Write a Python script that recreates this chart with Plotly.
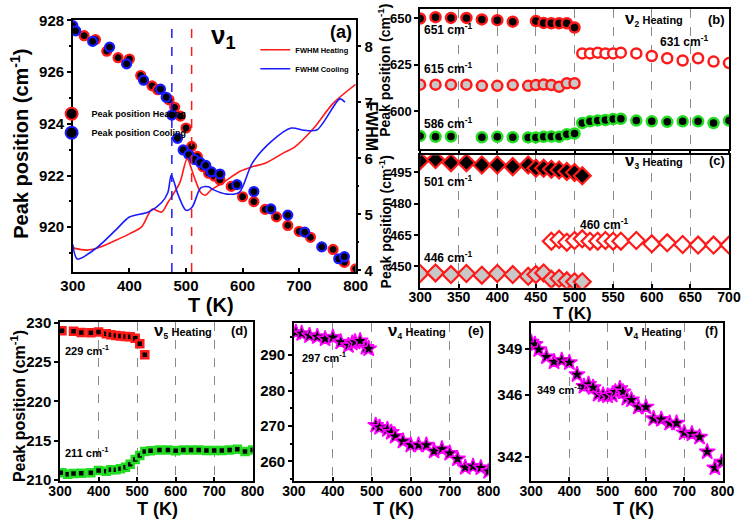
import plotly.graph_objects as go

W, H = 750, 526
FONT = "Liberation Sans"

# ---------------- data ----------------
# (a) nu1
a_heat_T = [320, 340, 360, 380, 400, 420, 440, 450, 470, 480, 490, 500, 510, 520, 530, 540, 550, 560,
            580, 600, 620, 640, 660, 680, 700, 720, 760, 780, 800]
a_heat_P = [927.41, 927.26, 926.81, 926.56, 926.51, 925.87, 925.47, 925.32, 924.93, 924.64, 924.30, 923.84,
            923.13, 922.74, 922.34, 922.09, 921.98, 921.83, 921.58, 921.18, 920.99, 920.69, 920.40, 920.07,
            919.84, 919.61, 919.14, 918.64, 918.39]
a_cool_T = [300, 305, 335, 365, 395, 425, 455, 465, 475, 485, 495, 505, 515, 525, 535, 545, 560, 590,
            620, 650, 680, 710, 740, 770, 780]
a_cool_P = [927.80, 927.60, 927.19, 926.97, 926.32, 925.69, 925.34, 925.03, 924.34, 923.44, 922.99, 922.81,
            922.62, 922.51, 922.39, 922.14, 922.06, 921.65, 921.38, 920.71, 920.47, 919.81, 919.24, 918.78,
            918.86]
fw_heat_T = [300, 325, 350, 375, 400, 422, 440, 457, 468, 489, 502, 514, 526, 534, 545, 565, 594, 617,
             640, 675, 692, 726, 760, 800]
fw_heat_F = [4.40, 4.36, 4.42, 4.53, 4.65, 4.78, 5.09, 5.04, 5.21, 5.56, 5.99, 5.68, 5.39, 5.34, 5.44,
             5.56, 5.76, 5.85, 5.91, 6.11, 6.20, 6.54, 6.98, 7.32]
fw_cool_T = [300, 308, 342, 376, 400, 434, 457, 468, 474, 486, 500, 511, 526, 540, 548, 572, 594, 617,
             652, 686, 709, 732, 772, 781]
fw_cool_F = [4.46, 4.20, 4.40, 4.72, 4.95, 5.04, 5.21, 5.39, 5.70, 5.35, 5.07, 5.13, 5.47, 5.49, 5.44,
             5.36, 5.39, 5.91, 6.31, 6.54, 6.50, 6.51, 7.06, 7.00]
TC_COOL = 475
TC_HEAT = 510

# (b) nu2
b651_T = [300, 320, 340, 360, 380, 400, 420, 450, 460, 470, 480, 490, 500]
b651_P = [650.0, 650.7, 650.3, 650.3, 649.5, 649.1, 648.3, 648.6, 647.6, 647.4, 647.4, 647.4, 645.1]
b615_T = [300, 320, 340, 360, 380, 400, 420, 440, 450, 460, 470, 480, 490, 500]
b615_P = [614.2, 614.2, 614.2, 614.2, 613.6, 613.6, 614.0, 613.6, 614.0, 614.3, 614.0, 613.1, 615.0, 615.0]
b631_T = [510, 520, 530, 540, 550, 560, 580, 600, 620, 640, 660, 680, 700]
b631_P = [631.1, 631.1, 631.5, 631.1, 631.1, 631.5, 631.1, 629.7, 628.5, 627.3, 628.5, 626.7, 625.9]
b586_T = [300, 320, 340, 380, 400, 420, 440, 450, 460, 470, 480, 490, 500, 510, 520, 530, 540, 550, 560,
          580, 600, 620, 640, 660, 680, 700]
b586_P = [586.5, 586.0, 586.2, 585.8, 586.0, 585.8, 585.7, 585.7, 586.0, 586.2, 586.0, 587.4, 587.8, 593.5,
          594.4, 594.9, 595.1, 595.6, 595.8, 594.8, 594.4, 594.1, 594.4, 594.4, 593.5, 594.8]

# (c) nu3
c501_T = [300, 320, 340, 360, 380, 400, 420, 440, 450, 460, 470, 480, 490, 500, 510]
c501_P = [500.6, 501.2, 499.7, 499.7, 498.6, 498.6, 497.8, 498.6, 497.0, 497.0, 496.6, 496.2, 495.5, 495.0, 493.4]
c446_T = [300, 320, 340, 360, 380, 400, 420, 440, 450, 460, 470, 480, 490, 500, 510]
c446_P = [446.6, 446.9, 446.1, 446.6, 445.8, 446.6, 446.1, 445.3, 446.1, 446.9, 443.8, 444.2, 443.1, 442.7, 442.7]
c460_T = [470, 480, 490, 500, 510, 520, 530, 540, 550, 560, 580, 600, 620, 640, 660, 680, 700]
c460_P = [462.1, 462.9, 461.6, 462.4, 463.2, 462.1, 462.1, 462.4, 462.1, 462.1, 462.4, 460.8, 461.3, 460.5,
          460.2, 460.2, 460.2]

# (d) nu5
d229_T = [305, 335, 355, 380, 400, 420, 432, 445, 457, 470, 482, 495, 507, 520]
d229_P = [228.96, 228.9, 228.76, 228.7, 228.8, 228.6, 228.45, 228.35, 228.3, 228.25, 228.2, 228.0, 227.3, 225.9]
d211_T = [305, 320, 335, 355, 380, 400, 420, 432, 445, 457, 470, 482, 495, 507, 520, 535, 558, 580, 600,
          620, 640, 660, 680, 700, 720, 740, 760, 780, 800]
d211_P = [210.9, 210.7, 210.8, 210.85, 210.9, 211.2, 211.1, 211.3, 211.3, 211.4, 211.6, 212.0, 212.6, 213.1,
          213.6, 213.7, 213.8, 213.8, 213.7, 213.8, 213.8, 213.8, 213.75, 213.75, 213.75, 213.8, 213.9, 213.6, 213.8]

# (e) nu4
e_T = [305, 320, 340, 360, 380, 400, 420, 440, 450, 457, 470, 485, 492,
       510, 520, 540, 550, 560, 580, 600, 620, 640, 660, 680, 700, 720, 740, 760, 780, 800]
e_P = [296.4, 296.1, 295.5, 295.2, 294.6, 295.0, 293.7, 292.7, 293.4, 293.7, 294.0, 292.2, 291.8,
       270.2, 269.6, 269.0, 268.2, 267.1, 265.7, 264.6, 264.6, 264.6, 262.9, 263.5, 262.3, 260.7, 258.3,
       258.6, 258.2, 257.2]

# (f) nu4
f_T = [300, 310, 320, 340, 360, 380, 400, 420, 438, 450, 462, 475, 488, 500, 512, 520, 532, 540, 550, 562,
       580, 600, 620, 640, 662, 680, 700, 720, 740, 760, 780, 798]
f_P = [349.45, 349.3, 348.97, 348.5, 348.17, 348.27, 348.12, 347.34, 346.58, 346.71, 346.5, 346.06, 346.01,
       345.95, 346.01, 346.22, 346.43, 346.22, 345.8, 345.7, 345.23, 345.23, 344.47, 344.43, 344.18, 344.18,
       343.55, 343.48, 343.27, 342.32, 341.27, 341.65]

# ---------------- helpers ----------------
def fx(px):
    return px / W

def fy(py):
    return 1 - py / H

RED = "#ff1a1a"
BLUE = "#1a1aff"
GREEN = "#22dd22"
MAG = "#ff00ff"

fig = go.Figure()

def mk(T, P, xa, ya, symbol, size, fill, line, lw, name=None, legend=None, show=False):
    fig.add_trace(go.Scatter(
        x=T, y=P, xaxis=xa, yaxis=ya, mode="markers", name=name or "",
        showlegend=show, legend=legend,
        marker=dict(symbol=symbol, size=size, color=fill, line=dict(color=line, width=lw))))

# (a)
mk(a_heat_T, a_heat_P, "x", "y", "circle", 9, "black", RED, 2.2, "Peak position Heating", "legend", True)
mk(a_cool_T, a_cool_P, "x", "y", "circle", 9, "black", BLUE, 2.2, "Peak position Cooling", "legend", True)
fig.add_trace(go.Scatter(x=fw_heat_T, y=fw_heat_F, xaxis="x", yaxis="y2", mode="lines",
                         line=dict(color=RED, width=1.6, shape="spline", smoothing=0.8),
                         name="FWHM Heating", legend="legend2"))
fig.add_trace(go.Scatter(x=fw_cool_T, y=fw_cool_F, xaxis="x", yaxis="y2", mode="lines",
                         line=dict(color=BLUE, width=1.6, shape="spline", smoothing=0.8),
                         name="FWHM Cooling", legend="legend2"))

# (b)
mk(b651_T, b651_P, "x3", "y3", "circle", 10, "black", RED, 2.5)
mk(b615_T, b615_P, "x3", "y3", "circle", 10, "#c8c8c8", RED, 2.5)
mk(b631_T, b631_P, "x3", "y3", "circle", 10, "white", RED, 2.5)
mk(b586_T, b586_P, "x3", "y3", "circle", 10, "black", GREEN, 2.5)
# (c)
mk(c501_T, c501_P, "x4", "y4", "diamond", 13, "black", RED, 2.2)
mk(c446_T, c446_P, "x4", "y4", "diamond", 13, "#c8c8c8", RED, 2.2)
mk(c460_T, c460_P, "x4", "y4", "diamond", 13, "white", RED, 2.2)
# (d)
mk(d229_T, d229_P, "x5", "y5", "square", 7, "black", RED, 2.5)
mk(d211_T, d211_P, "x5", "y5", "square", 7, "black", GREEN, 2.5)
# (e)
mk(e_T, e_P, "x6", "y6", "star", 12, "black", MAG, 1.5)
# (f)
mk(f_T, f_P, "x7", "y7", "star", 12, "black", MAG, 1.5)

# transition lines in (a)
fig.add_shape(type="line", xref="x", yref="y domain", x0=TC_COOL, x1=TC_COOL, y0=0, y1=1,
              line=dict(color=BLUE, width=1.5, dash="dash"))
fig.add_shape(type="line", xref="x", yref="y domain", x0=TC_HEAT, x1=TC_HEAT, y0=0, y1=1,
              line=dict(color=RED, width=1.5, dash="dash"))

def axis(domain, rng, size, **kw):
    d = dict(domain=domain, range=rng, showline=True, linecolor="black", linewidth=1.5, mirror=True,
             ticks="outside", ticklen=4, tickwidth=1.5, tickcolor="black", zeroline=False, showgrid=False,
             tickfont=dict(family=FONT, size=size, color="black", weight="bold"))
    d.update(kw)
    return d

grid = dict(showgrid=True, gridcolor="#8a8a8a", griddash="dash", gridwidth=1)

layout = dict(
    width=W, height=H, margin=dict(l=0, r=0, t=0, b=0),
    paper_bgcolor="white", plot_bgcolor="white",
    font=dict(family=FONT, color="black"),
    xaxis=axis([fx(62), fx(355)], [300, 800], 15, anchor="y", ticks="inside", ticklabelstandoff=-1,
               tickvals=[300, 400, 500, 600, 700, 800]),
    yaxis=axis([fy(271.7), fy(12.3)], [918.27, 928.02], 15, anchor="x", tickvals=[920, 922, 924, 926, 928],
               minor=dict(ticks="outside", ticklen=2, dtick=1, tickcolor="black")),
    yaxis2=axis([fy(271.7), fy(12.3)], [3.97, 8.47], 15, anchor="x", overlaying="y", side="right",
                tickvals=[4, 5, 6, 7, 8], mirror=False,
                minor=dict(ticks="outside", ticklen=2, dtick=0.5, tickcolor="black")),
    xaxis3=axis([fx(421.7), fx(741.7)], [300, 700], 13, anchor="y3", dtick=50, showticklabels=False, **grid),
    yaxis3=axis([fy(145), fy(0.7)], [579.5, 655.3], 13, anchor="x3", tickvals=[600, 625, 650]),
    xaxis4=axis([fx(421.7), fx(741.7)], [300, 700], 14, anchor="y4", dtick=50, ticks="inside",
                ticklabelstandoff=-4, **grid),
    yaxis4=axis([fy(288), fy(151.7)], [439.76, 503.19], 13, anchor="x4", tickvals=[450, 465, 480, 495]),
    xaxis5=axis([fx(48.7), fx(248.3)], [300, 800], 14, anchor="y5", dtick=100, ticks="inside",
                ticklabelstandoff=-3, **grid),
    yaxis5=axis([fy(486.7), fy(323.3)], [209.88, 230.07], 15, anchor="x5", tickvals=[210, 215, 220, 225, 230]),
    xaxis6=axis([fx(291), fx(492.7)], [300, 800], 14, anchor="y6", dtick=100, ticks="inside",
                ticklabelstandoff=-3, **grid),
    yaxis6=axis([fy(486.7), fy(324)], [254.52, 299.13], 15, anchor="x6", tickvals=[260, 270, 280, 290],
                minor=dict(ticks="outside", ticklen=2, dtick=5, tickcolor="black")),
    xaxis7=axis([fx(536.7), fx(735)], [300, 800], 14, anchor="y7", dtick=100, ticks="inside",
                ticklabelstandoff=-3, **grid),
    yaxis7=axis([fy(486.7), fy(324)], [340.43, 350.71], 15, anchor="x7", tickvals=[342, 346, 349]),
    legend=dict(x=fx(40), y=fy(94), xanchor="left", yanchor="top", bgcolor="rgba(0,0,0,0)",
                font=dict(family=FONT, size=9, weight="bold"), tracegroupgap=0, itemwidth=30,
                itemsizing="constant"),
    legend2=dict(x=fx(251), y=fy(28), xanchor="left", yanchor="top", bgcolor="rgba(0,0,0,0)",
                 font=dict(family=FONT, size=7.5, weight="bold"), tracegroupgap=0, itemwidth=30),
)
fig.update_layout(**layout)

ann = []

def text(t, x, y, size, xanchor="center", angle=0, bold=True):
    ann.append(dict(text=t, x=fx(x), y=fy(y), xref="paper", yref="paper", showarrow=False,
                    xanchor=xanchor, yanchor="middle", textangle=angle,
                    font=dict(family=FONT, size=size, color="black", weight="bold" if bold else "normal")))

def cm(v):
    return f"{v} cm<sup>-1</sup>"

def nu(i, s):
    return f"<span style='font-size:17px'>ν</span><sub>{i}</sub> <span style='font-size:11px'>{s}</span>"

# (a)
text("ν<sub>1</sub>", 218, 29, 26)
text("(a)", 340, 25, 18)
text("Peak position (cm<sup>-1</sup>)", 6, 140, 20, angle=-90)
text("T (K)", 205, 306, 20)
text("FWHM", 371, 122, 16, angle=90)
# (b)
text(nu(2, "Heating"), 632, 11, 12, xanchor="left")
text("(b)", 740, 12, 13, xanchor="right")
text(cm(651), 424, 22, 12, xanchor="left")
text(cm(615), 424, 62, 12, xanchor="left")
text(cm(586), 424, 118, 12, xanchor="left")
text(cm(631), 668, 34, 12, xanchor="left")
text("Peak position (cm<sup>-1</sup>)", 385, 64, 14, angle=-90)
# (c)
text(nu(3, "Heating"), 632, 157, 12, xanchor="left")
text("(c)", 740, 157, 13, xanchor="right")
text(cm(501), 424, 178, 12, xanchor="left")
text(cm(460), 585, 222, 12, xanchor="left")
text(cm(446), 424, 256, 12, xanchor="left")
text("Peak position (cm<sup>-1</sup>)", 385, 220, 14, angle=-90)
text("T (K)", 580, 314, 17)
# (d)
text(nu(5, "Heating"), 144, 332, 12, xanchor="left")
text("(d)", 246, 332, 13, xanchor="right")
text(cm(229), 52, 352, 11, xanchor="left")
text(cm(211), 52, 457, 11, xanchor="left")
text("Peak position (cm<sup>-1</sup>)", 6, 410, 16, angle=-90)
text("T (K)", 150, 516, 18)
# (e)
text(nu(4, "Heating"), 386, 332, 12, xanchor="left")
text("(e)", 490, 332, 13, xanchor="right")
text(cm(297), 297, 359, 11, xanchor="left")
text("T (K)", 394, 516, 18)
# (f)
text(nu(4, "Heating"), 631, 332, 12, xanchor="left")
text("(f)", 732, 332, 13, xanchor="right")
text(cm(349), 541, 392, 11, xanchor="left")
text("T (K)", 643, 516, 18)

fig.update_layout(annotations=ann)
fig.write_html("out.html")
